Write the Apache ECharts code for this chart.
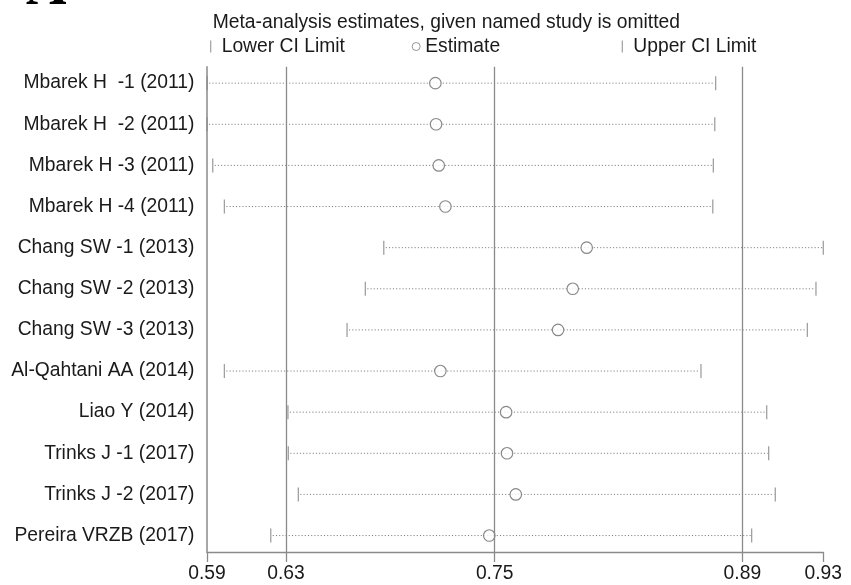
<!DOCTYPE html>
<html>
<head>
<meta charset="utf-8">
<script src="https://cdn.jsdelivr.net/npm/echarts@6/dist/echarts.min.js"></script>
<style>
  html, body { margin: 0; padding: 0; background: #fff; }
  #chart { width: 851px; height: 585px; }
</style>
</head>
<body>
<div id="chart"></div>
<script>
// ---- data ----
const studies = [
  'Mbarek H  -1 (2011)',
  'Mbarek H  -2 (2011)',
  'Mbarek H -3 (2011)',
  'Mbarek H -4 (2011)',
  'Chang SW -1 (2013)',
  'Chang SW -2 (2013)',
  'Chang SW -3 (2013)',
  'Al-Qahtani AA (2014)',
  'Liao Y (2014)',
  'Trinks J -1 (2017)',
  'Trinks J -2 (2017)',
  'Pereira VRZB (2017)'
];
const lowerCI  = [0.5886, 0.5885, 0.5917, 0.5982, 0.6872, 0.6769, 0.6667, 0.5982, 0.6337, 0.6339, 0.6395, 0.6241];
const estimate = [0.7160, 0.7164, 0.7179, 0.7216, 0.8005, 0.7927, 0.7845, 0.7188, 0.7555, 0.7560, 0.7609, 0.7461];
const upperCI  = [0.8725, 0.8720, 0.8712, 0.8709, 0.9326, 0.9285, 0.9237, 0.8643, 0.9010, 0.9021, 0.9058, 0.8926];
const overallLines = [0.6326, 0.7491, 0.8874];
const tickValues = [0.5885, 0.6326, 0.7491, 0.8874, 0.9326];
const tickLabels = ['0.59', '0.63', '0.75', '0.89', '0.93'];
const rowIndex = studies.map((s, i) => i + 1);

const FONT = '"Liberation Sans", Arial, sans-serif';
const FS = 19.3;
const AXIS_COLOR = '#8a8a8a';
const TEXT_COLOR = '#1a1a1a';

const chart = echarts.init(document.getElementById('chart'), null, { renderer: 'canvas' });

const legendBase = {
  orient: 'horizontal',
  top: 37,
  padding: 0,
  selectedMode: false,
  textStyle: { fontSize: FS, fontFamily: FONT, color: TEXT_COLOR },
  formatter: (name) => ' ' + name
};

chart.setOption({
  animation: false,
  backgroundColor: '#fff',
  grid: { left: 207, right: 27.7, top: 66.7, bottom: 33, containLabel: false },
  graphic: [
    {
      type: 'text', x: 26, y: -10,
      style: { text: 'A', fontSize: 56, fontWeight: 'bold', fontFamily: '"Liberation Serif", "Times New Roman", serif', fill: '#000', verticalAlign: 'middle', align: 'left' }
    },
    {
      type: 'text', x: 212.7, y: 22.5,
      style: { text: 'Meta-analysis estimates, given named study is omitted', fontSize: FS, fontFamily: FONT, fill: TEXT_COLOR, verticalAlign: 'middle', align: 'left' }
    }
  ],
  legend: [
    Object.assign({}, legendBase, { left: 210.1, itemWidth: 1.2, itemHeight: 12, data: [{ name: 'Lower CI Limit', icon: 'rect' }] }),
    Object.assign({}, legendBase, { left: 411.7, itemWidth: 8, itemHeight: 8, formatter: (n) => n,
      itemStyle: { color: '#fff', borderColor: '#6e6e6e', borderWidth: 0.9 },
      data: [{ name: 'Estimate', icon: 'circle' }] }),
    Object.assign({}, legendBase, { left: 621.7, itemWidth: 1.2, itemHeight: 12, data: [{ name: 'Upper CI Limit', icon: 'rect' }] })
  ],
  xAxis: {
    type: 'value',
    min: tickValues[0],
    max: tickValues[tickValues.length - 1],
    axisLine: { show: true, lineStyle: { color: AXIS_COLOR, width: 1.3 } },
    axisTick: { show: true, customValues: tickValues, length: 10, inside: false, lineStyle: { color: AXIS_COLOR, width: 1.3 } },
    axisLabel: {
      customValues: tickValues,
      margin: 12,
      fontSize: FS, fontFamily: FONT, color: TEXT_COLOR,
      formatter: (v) => {
        let best = 0;
        for (let i = 1; i < tickValues.length; i++) {
          if (Math.abs(tickValues[i] - v) < Math.abs(tickValues[best] - v)) best = i;
        }
        return tickLabels[best];
      }
    },
    splitLine: { show: false }
  },
  yAxis: {
    type: 'value',
    inverse: true,
    min: 0.6,
    max: 12.4,
    axisLine: { show: true, onZero: false, lineStyle: { color: AXIS_COLOR, width: 1.5 } },
    axisTick: { show: false },
    axisLabel: {
      customValues: rowIndex,
      margin: 12.5,
      fontSize: FS, fontFamily: FONT, color: TEXT_COLOR,
      formatter: (v) => studies[Math.round(v) - 1] || ''
    },
    splitLine: { show: false }
  },
  series: [
    {
      name: 'ci',
      type: 'custom',
      silent: true,
      z: 1,
      data: studies.map((s, i) => [lowerCI[i], upperCI[i], i + 1]),
      encode: { x: [0, 1], y: 2 },
      renderItem: (params, api) => {
        const p1 = api.coord([api.value(0), api.value(2)]);
        const p2 = api.coord([api.value(1), api.value(2)]);
        return {
          type: 'line',
          shape: { x1: p1[0] + 2, y1: p1[1], x2: p2[0] - 1, y2: p2[1] },
          style: { stroke: '#7c7c7c', lineWidth: 1, lineDash: [1.1, 2.1] }
        };
      }
    },
    {
      name: 'Lower CI Limit',
      type: 'scatter',
      z: 3,
      symbol: 'rect',
      symbolSize: [1.3, 14],
      itemStyle: { color: '#888' },
      data: studies.map((s, i) => [lowerCI[i], i + 1])
    },
    {
      name: 'Upper CI Limit',
      type: 'scatter',
      z: 3,
      symbol: 'rect',
      symbolSize: [1.3, 14],
      itemStyle: { color: '#888' },
      data: studies.map((s, i) => [upperCI[i], i + 1])
    },
    {
      name: 'Estimate',
      type: 'scatter',
      z: 4,
      symbol: 'circle',
      symbolSize: 11.5,
      itemStyle: { color: '#fff', borderColor: '#6a6a6a', borderWidth: 1.15 },
      data: studies.map((s, i) => [estimate[i], i + 1]),
      markLine: {
        silent: true,
        precision: 6,
        symbol: ['none', 'none'],
        label: { show: false },
        lineStyle: { color: AXIS_COLOR, width: 1.3, type: 'solid' },
        data: overallLines.map(v => ({ xAxis: v }))
      }
    }
  ]
});
</script>
</body>
</html>
